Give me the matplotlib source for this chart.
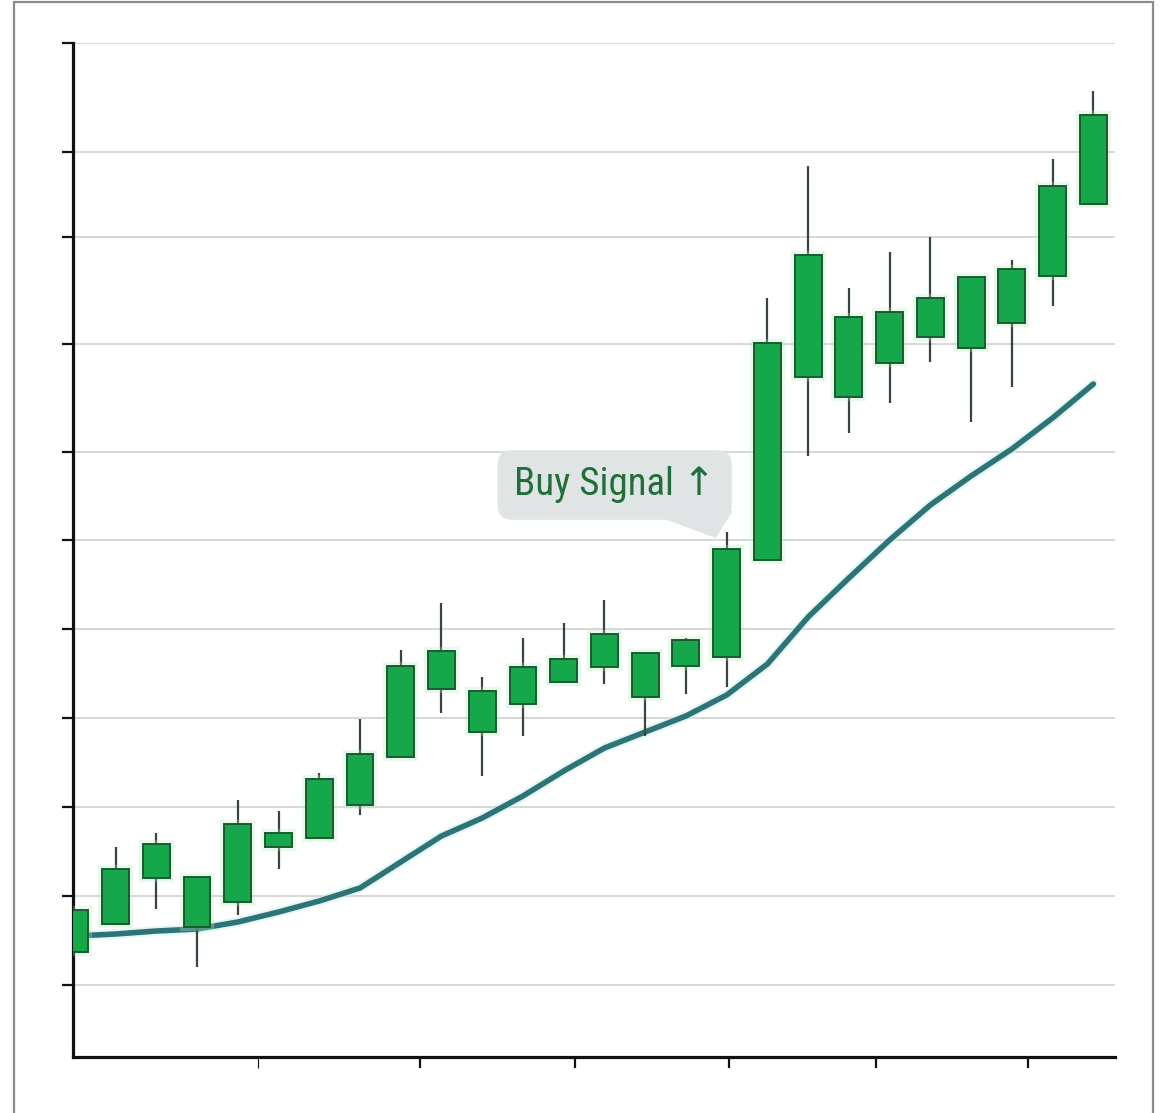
import numpy as np
import matplotlib.pyplot as plt
from matplotlib.patches import Rectangle, Polygon
import matplotlib.patheffects as pe

# candle data (arbitrary price units)
opens  = [10.5, 13.3, 17.9, 13.0, 15.5, 21.0, 21.9, 25.2, 30.0, 36.8, 32.5, 35.3, 37.5,
          39.0, 36.0, 39.1, 40.0, 49.7, 68.0, 66.0, 69.4, 72.0, 70.9, 73.4, 78.1, 85.3]
closes = [14.7, 18.8, 21.3, 18.0, 23.3, 22.4, 27.8, 30.3, 39.1, 40.6, 36.6, 39.0, 39.8,
          42.3, 40.4, 41.7, 50.8, 71.4, 80.2, 74.0, 74.5, 75.9, 78.0, 78.8, 87.1, 94.2]
highs  = [14.7, 21.0, 22.4, 18.0, 25.7, 24.6, 28.4, 33.8, 40.7, 45.4, 38.0, 41.9, 43.4,
          45.7, 40.4, 41.9, 52.5, 75.9, 89.1, 76.9, 80.5, 82.0, 78.0, 79.7, 89.8, 96.6]
lows   = [10.5, 13.3, 14.8, 9.0, 14.2, 18.8, 21.9, 24.2, 30.0, 34.4, 28.1, 32.1, 37.5,
          37.3, 32.1, 36.3, 37.0, 49.7, 60.1, 62.4, 65.4, 69.5, 63.5, 67.0, 75.1, 85.3]
# moving average line
ma     = [12.1, 12.3, 12.6, 12.8, 13.5, 14.5, 15.6, 16.9, 19.5, 22.1, 23.9, 26.1, 28.6,
          30.9, 32.5, 34.1, 36.2, 39.3, 44.0, 47.9, 51.7, 55.2, 58.1, 60.8, 63.9, 67.3]
grid_levels = [7.2, 16.1, 25.0, 33.9, 42.8, 51.7, 60.5, 71.3, 82.0, 90.5, 101.4]
x_ticks = [4.5, 8.47, 12.28, 16.06, 19.66, 23.39]
signal_idx = 16

x = np.arange(len(opens))
o = np.array(opens); c = np.array(closes)

fig = plt.figure(figsize=(11.63, 11.13), dpi=100)
ax = fig.add_axes([0.0628, 0.0503, 0.8959, 0.9111])

ax.set_yticks(grid_levels)
ax.set_xticks(x_ticks)
ax.grid(axis='y', color='#d4d4d4', lw=1.3, zorder=0)
ax.set_axisbelow(True)

# moving average
ax.plot(x, ma, color='#2e7476', lw=4, solid_capstyle='round', solid_joinstyle='round', zorder=2,
        path_effects=[pe.Stroke(linewidth=7, foreground='#c8f0f0', alpha=0.5), pe.Normal()])

# wicks + bodies
ax.vlines(x, lows, highs, color='#36463c', lw=1.6, zorder=3)
bars = ax.bar(x, c - o, bottom=o, width=0.66, color='#17a74b', edgecolor='#1b5a31',
              linewidth=1.4, zorder=4)
for b in bars:
    b.set_path_effects([pe.Stroke(linewidth=6, foreground='#b5efc2', alpha=0.3), pe.Normal()])

ax.set_xlim(-0.043, 25.53)
ax.set_ylim(0, 101.4)

for s in ['top', 'right']:
    ax.spines[s].set_visible(False)
for s in ['left', 'bottom']:
    ax.spines[s].set_linewidth(2.3)
    ax.spines[s].set_color('#111111')
ax.tick_params(axis='both', direction='out', length=8, width=1.6, color='#111111',
               labelleft=False, labelbottom=False)
t0 = ax.xaxis.get_major_ticks()[0]
t0.tick1line.set_color('#b0b0b0')
t0.tick1line.set_markeredgewidth(0.8)

# buy signal callout
box_c = '#e1e4e4'
tip_x, tip_y = signal_idx - 0.27, highs[signal_idx] - 0.6
ax.add_patch(Polygon([(13.94, 54.6), (16.15, 54.6), (tip_x, tip_y)], closed=True,
                     fc=box_c, ec='none', zorder=5))
ax.text(13.25, 57.2, 'Buy Signal \u2191', ha='center', va='center', fontsize=28,
        color='#21703a', family=['Roboto Condensed', 'Roboto', 'DejaVu Sans'],
        bbox=dict(boxstyle='round,pad=0.42,rounding_size=0.38', fc=box_c, ec='none'),
        zorder=6)

# outer frame
fig.patches.append(Rectangle((14 / 1163, -0.02), (1153 - 14) / 1163, 1.018,
                             transform=fig.transFigure, fill=False, ec='#8c8c8c', lw=1.6))

fig.savefig('out.png', dpi=100, facecolor='white')
